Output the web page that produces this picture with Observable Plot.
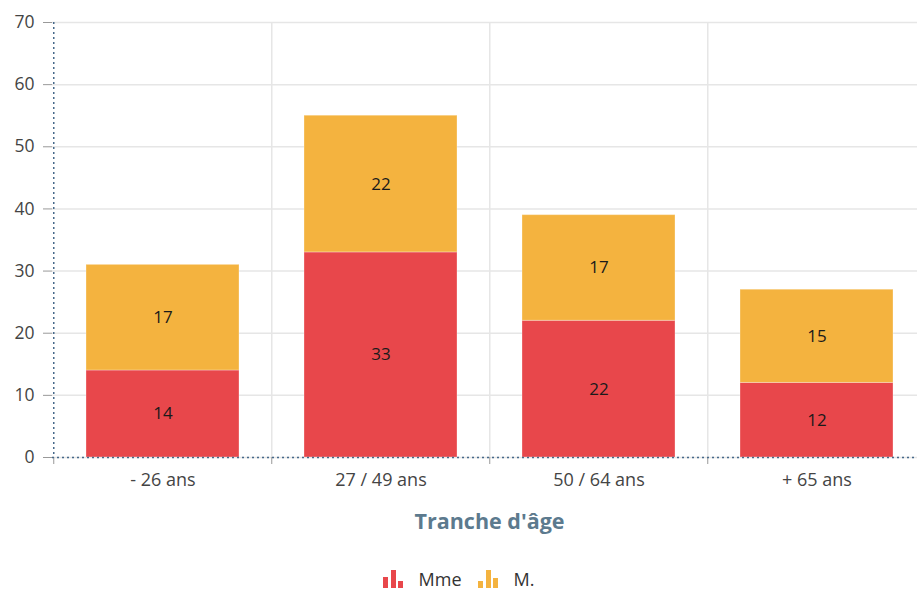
<!DOCTYPE html>
<html><head><meta charset="utf-8">
<script src="https://cdn.jsdelivr.net/npm/d3@7"></script>
<script src="https://cdn.jsdelivr.net/npm/@observablehq/plot@0.6"></script>
<style>
body{margin:0;overflow:hidden;background:#fff;font-family:"Open Sans","Noto Sans",sans-serif}
#chart svg{max-width:none!important;display:block}
#legend{width:917px;display:flex;justify-content:center;align-items:center;margin-top:30px;height:18px;line-height:18px;font-size:18px;color:#333}
.item{display:flex;align-items:center;margin:0 8px}
.item svg{margin-right:16px}
</style></head><body><div id="chart"></div><div id="legend"></div>
<script>
const categories = ["- 26 ans", "27 / 49 ans", "50 / 64 ans", "+ 65 ans"];
const series = ["Mme", "M."];
const mmeValues = [14, 33, 22, 12];
const mValues = [17, 22, 17, 15];
const colors = ["#e8474b", "#f4b33f"];
const yTicks = [0, 10, 20, 30, 40, 50, 60, 70];
const xTitle = "Tranche d'âge";

const rows = [];
[mmeValues, mValues].forEach((vals, s) =>
  vals.forEach((v, i) => rows.push({category: categories[i], series: series[s], value: v})));

const W = 926, ML = 52, MR = 0, MT = 22, MB = 83, H = 540;
const step = (W - ML - MR) / categories.length;

const chart = Plot.plot({
  width: W, height: H, marginLeft: ML, marginRight: MR, marginTop: MT, marginBottom: MB,
  style: {fontFamily: "'Open Sans','Noto Sans',sans-serif", fontSize: "17px", color: "#404040", background: "#fff", maxWidth: "none"},
  x: {domain: categories, paddingInner: 0.3, paddingOuter: 0.15, label: null},
  y: {domain: [0, 70], label: null},
  color: {domain: series, range: colors},
  marks: [
    Plot.gridY(yTicks, {stroke: "#e6e6e6", strokeOpacity: 1, strokeWidth: 1.5}),
    Plot.ruleX(categories.slice(1), {x: d => d, dx: -step / 2, stroke: "#e6e6e6", strokeWidth: 1.5}),
    Plot.barY(rows, {x: "category", y: "value", fill: "series", stroke: "#fff", strokeOpacity: 0.3}),
    Plot.text(rows, Plot.stackY({x: "category", y: "value", z: "series", text: "value", fill: "#1a1a1a", fontSize: 17})),
    Plot.axisY(yTicks, {tickSize: 9, tickPadding: 9, stroke: "#999", fill: "#444", fontSize: 17.5, label: null}),
    Plot.axisX({tickSize: 0, tickPadding: 16, label: null, fill: "#444", fontSize: 18}),
    Plot.ruleX(categories, {x: d => d, dx: -step / 2, y1: 0, y2: 0, insetTop: 7, stroke: "#999"}),
    Plot.ruleX([categories[0]], {x: d => d, dx: -step / 2, stroke: "#46698a", strokeDasharray: "2,3", strokeWidth: 1.5}),
    Plot.ruleY([0], {stroke: "#46698a", strokeDasharray: "2,3", strokeWidth: 1.5}),
    Plot.text([xTitle], {frameAnchor: "bottom", dy: 65, lineAnchor: "middle", text: d => d, fill: "#5c7a8e", fontWeight: "bold", fontSize: 21.5})
  ]
});
document.getElementById("chart").appendChild(chart);

const legend = document.getElementById("legend");
series.forEach((s, i) => {
  const item = document.createElement("div");
  item.className = "item";
  const h = i === 0 ? [12, 19, 8] : [8, 19, 11];
  item.innerHTML = `<svg width="20" height="20" viewBox="0 0 20 20"><rect x="0" y="${20 - h[0]}" width="5" height="${h[0]}" fill="${colors[i]}"/><rect x="8" y="${20 - h[1]}" width="5" height="${h[1]}" fill="${colors[i]}"/><rect x="15" y="${20 - h[2]}" width="5" height="${h[2]}" fill="${colors[i]}"/></svg><span>${s}</span>`;
  legend.appendChild(item);
});
</script>
</body></html>
